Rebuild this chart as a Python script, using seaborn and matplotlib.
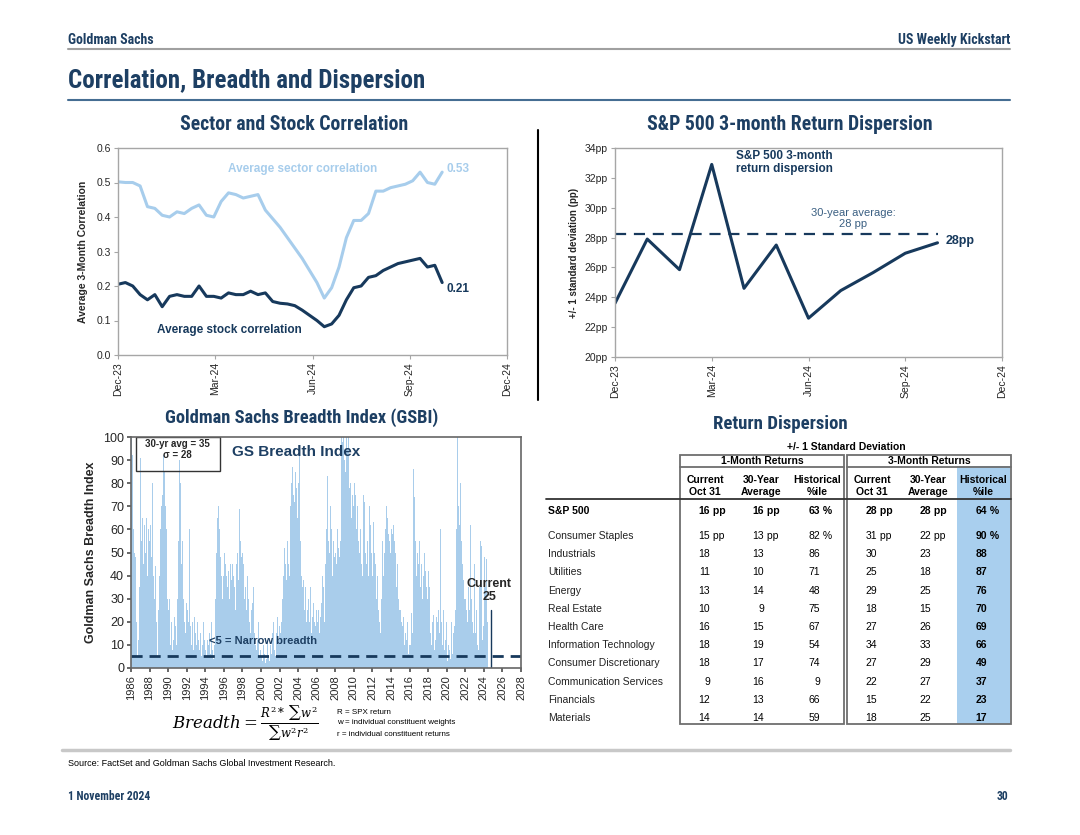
import numpy as np
import matplotlib
matplotlib.use('Agg')
import matplotlib.pyplot as plt
from matplotlib.patches import Rectangle
import seaborn as sns

NAVY = '#1d3f63'
DARK = '#17395c'
LIGHT = '#a7cdec'
BAR = '#a9cdeb'
GRAY = '#a6a6a6'
NARROW = ['Roboto Condensed', 'Liberation Sans Narrow', 'Liberation Sans']
BODY = ['Liberation Sans', 'DejaVu Sans']

# --- sector and stock correlation, weekly from Dec-23 to end Oct-24
sector_corr = [0.502, 0.50, 0.50, 0.49, 0.43, 0.425, 0.405, 0.40, 0.415, 0.41,
               0.425, 0.435, 0.405, 0.40, 0.445, 0.47, 0.465, 0.455, 0.46, 0.465,
               0.42, 0.395, 0.37, 0.34, 0.31, 0.28, 0.245, 0.21, 0.165, 0.195,
               0.255, 0.34, 0.39, 0.39, 0.41, 0.475, 0.475, 0.485, 0.49, 0.495,
               0.505, 0.53, 0.50, 0.495, 0.53]
stock_corr = [0.205, 0.21, 0.20, 0.175, 0.16, 0.175, 0.14, 0.17, 0.175, 0.17,
              0.17, 0.20, 0.17, 0.17, 0.165, 0.18, 0.175, 0.175, 0.185, 0.175,
              0.18, 0.155, 0.15, 0.148, 0.143, 0.13, 0.115, 0.10, 0.082, 0.09,
              0.115, 0.16, 0.195, 0.20, 0.225, 0.23, 0.245, 0.255, 0.265, 0.27,
              0.275, 0.28, 0.255, 0.26, 0.21]
month_ticks = ['Dec-23', 'Mar-24', 'Jun-24', 'Sep-24', 'Dec-24']

# --- S&P 500 3-month return dispersion, month-end Dec-23 .. Oct-24
dispersion = [23.6, 27.9, 25.85, 32.9, 24.6, 27.5, 22.6, 24.45, 25.65, 26.95, 27.65]
disp_avg = 28.25

# --- GS breadth index, monthly from Jan-1986
gsbi = [
    100, 92, 85, 60, 50, 48, 45, 20, 5, 12, 35, 45,      # 1986
    91, 55, 65, 67, 45, 62, 50, 60, 65, 40, 60, 55,      # 1987
    64, 62, 48, 80, 55, 40, 30, 44, 20, 12, 5, 25,       # 1988
    40, 55, 60, 70, 75, 88, 92, 85, 70, 60, 45, 30,      # 1989
    25, 30, 15, 10, 20, 8, 12, 5, 22, 18, 10, 8,         # 1990
    30, 55, 90, 80, 50, 45, 55, 30, 25, 20, 15, 28,      # 1991
    22, 25, 20, 60, 18, 15, 10, 20, 8, 12, 22, 15,       # 1992
    10, 20, 25, 12, 8, 15, 28, 5, 10, 20, 12, 6,         # 1993
    8, 5, 12, 3, 10, 15, 6, 12, 20, 8, 4, 10,            # 1994
    15, 30, 50, 65, 69, 70, 60, 48, 40, 45, 30, 40,      # 1995
    50, 70, 45, 40, 35, 50, 42, 30, 45, 38, 25, 45,      # 1996
    40, 35, 30, 25, 45, 50, 38, 42, 69, 55, 48, 35,      # 1997
    50, 45, 30, 35, 20, 25, 40, 30, 35, 20, 15, 25,      # 1998
    20, 28, 35, 15, 10, 25, 8, 12, 20, 10, 5, 8,         # 1999
    5, 3, 16, 10, 6, 2, 8, 4, 12, 5, 3, 14,              # 2000
    10, 6, 15, 12, 20, 8, 5, 10, 15, 22, 12, 18,         # 2001
    23, 15, 20, 30, 25, 40, 52, 45, 38, 50, 55, 45,      # 2002
    40, 55, 70, 80, 87, 60, 75, 72, 85, 78, 70, 65,      # 2003
    80, 92, 90, 55, 40, 35, 38, 30, 25, 35, 20, 28,      # 2004
    25, 30, 20, 35, 30, 15, 22, 28, 35, 20, 18, 25,      # 2005
    30, 20, 25, 15, 22, 30, 28, 40, 35, 25, 20, 45,      # 2006
    60, 83, 75, 55, 50, 70, 45, 60, 40, 55, 48, 42,      # 2007
    50, 45, 60, 40, 52, 48, 55, 65, 100, 98, 100, 90,    # 2008
    100, 85, 100, 95, 88, 100, 78, 80, 65, 90, 75, 70,   # 2009
    80, 88, 75, 60, 70, 65, 55, 50, 60, 45, 55, 40,      # 2010
    75, 72, 60, 50, 45, 55, 40, 60, 70, 62, 50, 45,      # 2011
    40, 63, 50, 45, 35, 30, 40, 25, 35, 20, 15, 30,      # 2012
    45, 55, 40, 50, 60, 82, 70, 65, 58, 60, 55, 50,      # 2013
    60, 58, 65, 62, 55, 50, 40, 35, 45, 30, 25, 20,      # 2014
    25, 20, 18, 15, 22, 10, 15, 8, 12, 20, 6, 10,        # 2015
    5, 10, 24, 15, 20, 86, 74, 55, 40, 35, 50, 45,       # 2016
    55, 40, 35, 45, 30, 25, 40, 50, 42, 35, 20, 30,      # 2017
    42, 35, 25, 15, 10, 20, 23, 15, 8, 12, 22, 18,       # 2018
    20, 25, 15, 60, 30, 20, 10, 25, 15, 8, 12, 20,       # 2019
    5, 3, 10, 8, 4, 12, 20, 6, 15, 10, 18, 25,           # 2020
    60, 100, 85, 70, 62, 80, 65, 55, 45, 38, 30, 25,     # 2021
    30, 25, 20, 15, 35, 25, 62, 40, 30, 20, 15, 45,      # 2022
    30, 15, 25, 10, 20, 8, 35, 55, 53, 20, 12, 18,       # 2023
    48, 30, 35, 47, 20,                                  # 2024
]
gsbi_start = 1986
gsbi_current = 25
gsbi_current_date = 2024.8
narrow_level = 5

# --- return dispersion table
sectors = ['Consumer Staples', 'Industrials', 'Utilities', 'Energy', 'Real Estate',
           'Health Care', 'Information Technology', 'Consumer Discretionary',
           'Communication Services', 'Financials', 'Materials']
m1_cur = [15, 18, 11, 13, 10, 16, 18, 18, 9, 12, 14]
m1_avg = [13, 13, 10, 14, 9, 15, 19, 17, 16, 13, 14]
m1_pct = [82, 86, 71, 48, 75, 67, 54, 74, 9, 66, 59]
m3_cur = [31, 30, 25, 29, 18, 27, 34, 27, 22, 15, 18]
m3_avg = [22, 23, 18, 25, 15, 26, 33, 29, 27, 22, 25]
m3_pct = [90, 88, 87, 76, 70, 69, 66, 49, 37, 23, 17]
spx_row = [16, 16, 63, 28, 28, 64]

sns.set_theme(style='white')
plt.rcParams['font.family'] = BODY
plt.rcParams['axes.edgecolor'] = GRAY
plt.rcParams['mathtext.fontset'] = 'dejavuserif'

fig = plt.figure(figsize=(10.8, 8.35), dpi=100)

# page overlay in pixel coordinates
ax0 = fig.add_axes([0, 0, 1, 1], zorder=-1)
ax0.set_xlim(0, 1080)
ax0.set_ylim(835, 0)
ax0.axis('off')

def page_text(x, y, s, size=7.5, weight='normal', color='black', ha='left', family=BODY, **kw):
    ax0.text(x, y, s, fontsize=size, fontweight=weight, color=color, ha=ha,
             va='center', family=family, **kw)

page_text(68, 40, 'Goldman Sachs', 10, 'bold', NAVY, family=NARROW)
page_text(1010, 40, 'US Weekly Kickstart', 10, 'bold', NAVY, ha='right', family=NARROW)
ax0.plot([68, 1010], [49, 49], color='#a0a0a0', lw=1.5)
page_text(68, 81, 'Correlation, Breadth and Dispersion', 18, 'bold', NAVY, family=NARROW)
ax0.plot([68, 1010], [100, 100], color='#456d92', lw=1.5)
ax0.plot([538, 538], [130, 400], color='black', lw=1.5)
ax0.plot([62, 1010], [750, 750], color='#c8c8c8', lw=2.5)
page_text(68, 763, 'Source: FactSet and Goldman Sachs Global Investment Research.', 6.5)
page_text(68, 796, '1 November 2024', 8.4, 'bold', NAVY, family=NARROW)
page_text(1008, 796, '30', 8.4, 'bold', NAVY, ha='right', family=NARROW)

page_text(294, 125, 'Sector and Stock Correlation', 14.2, 'bold', NAVY, ha='center', family=NARROW)
page_text(790, 125, 'S&P 500 3-month Return Dispersion', 14.2, 'bold', NAVY, ha='center', family=NARROW)
page_text(302, 418, 'Goldman Sachs Breadth Index (GSBI)', 13.3, 'bold', NAVY, ha='center', family=NARROW)
page_text(780, 424, 'Return Dispersion', 13.5, 'bold', NAVY, ha='center', family=NARROW)

# ---------- top left: correlation
ax1 = fig.add_axes([118/1080, 1-355/835, 389/1080, 207/835])
xw = np.arange(len(sector_corr)) * 10 / (len(sector_corr) - 1)
sns.lineplot(x=xw, y=sector_corr, ax=ax1, color=LIGHT, lw=2.2)
sns.lineplot(x=xw, y=stock_corr, ax=ax1, color=DARK, lw=2.2)
ax1.set_xlim(0, 12)
ax1.set_ylim(0, 0.6)
ax1.set_xticks([0, 3, 6, 9, 12])
ax1.set_xticklabels(month_ticks, rotation=90)
ax1.set_yticks(np.arange(0, 0.61, 0.1))
ax1.set_yticklabels([f'{v:.1f}' for v in np.arange(0, 0.61, 0.1)])
ax1.set_ylabel('Average 3-Month Correlation', fontsize=7.5, fontweight='bold', labelpad=6)
ax1.text(5.68, 0.539, 'Average sector correlation', color=LIGHT, fontsize=8.5,
         fontweight='bold', ha='center', va='center')
ax1.text(10.12, 0.539, '0.53', color=LIGHT, fontsize=8.5, fontweight='bold', va='center')
ax1.text(10.12, 0.19, '0.21', color=DARK, fontsize=8.5, fontweight='bold', va='center')
ax1.text(1.2, 0.072, 'Average stock correlation', color=DARK, fontsize=8.5,
         fontweight='bold', va='center')

# ---------- top right: dispersion
ax2 = fig.add_axes([615/1080, 1-357/835, 387/1080, 209/835])
xm = np.arange(len(dispersion))
sns.lineplot(x=xm, y=dispersion, ax=ax2, color=DARK, lw=2.2)
ax2.plot([0, len(dispersion) - 1], [disp_avg, disp_avg], color=DARK, lw=1.6,
         dashes=(5, 3.5))
ax2.set_xlim(0, 12)
ax2.set_ylim(20, 34)
ax2.set_xticks([0, 3, 6, 9, 12])
ax2.set_xticklabels(month_ticks, rotation=90)
ax2.set_yticks(range(20, 35, 2))
ax2.set_yticklabels([f'{v}pp' for v in range(20, 35, 2)])
ax2.set_ylabel('+/- 1 standard deviation (pp)', fontsize=7, fontweight='bold', labelpad=4)
ax2.text(3.75, 33.0, 'S&P 500 3-month\nreturn dispersion', color=DARK, fontsize=8.5,
         fontweight='bold', va='center', linespacing=1.1)
ax2.text(7.38, 29.3, '30-year average:\n28 pp', color='#3a5f82', fontsize=8,
         ha='center', va='center', linespacing=1.15)
ax2.text(10.26, 27.75, '28pp', color=DARK, fontsize=9, fontweight='bold', va='center')

for ax in (ax1, ax2):
    ax.tick_params(axis='both', labelsize=7.5, length=3, width=0.8, color=GRAY,
                   direction='out', pad=2, bottom=True, left=True)
    for sp in ax.spines.values():
        sp.set_color(GRAY)
        sp.set_linewidth(1)

# ---------- bottom left: breadth index
ax3 = fig.add_axes([131/1080, 1-668/835, 390/1080, 231/835])
yrs = gsbi_start + np.arange(len(gsbi)) / 12
ax3.bar(yrs, gsbi, width=1/12, align='edge', color=BAR, linewidth=0)
ax3.axhline(narrow_level, color=DARK, lw=2, dashes=(4, 2.5))
ax3.plot([gsbi_current_date, gsbi_current_date], [0, gsbi_current], color=DARK, lw=1)
ax3.set_xlim(1986, 2028)
ax3.set_ylim(0, 100)
ax3.set_xticks(range(1986, 2029, 2))
ax3.set_xticklabels([str(y) for y in range(1986, 2029, 2)], rotation=90)
ax3.set_yticks(range(0, 101, 10))
ax3.tick_params(axis='x', labelsize=8, length=3, color='#555555', bottom=True, pad=2)
ax3.tick_params(axis='y', labelsize=9, length=3, color='#555555', left=True, pad=2)
for sp in ax3.spines.values():
    sp.set_color('#666666')
    sp.set_linewidth(1.2)
ax3.set_ylabel('Goldman Sachs Breadth Index', fontsize=9, fontweight='bold', labelpad=4)
ax3.add_patch(Rectangle((0.013, 0.853), 0.215, 0.147, transform=ax3.transAxes,
                        fill=False, edgecolor='#333333', lw=1))
ax3.text(0.12, 0.945, '30-yr avg = 35\n\u03c3 = 28', transform=ax3.transAxes,
         fontsize=7, fontweight='bold', ha='center', va='center', linespacing=1.1)
ax3.text(1996.9, 93.5, 'GS Breadth Index', color=NAVY, fontsize=11, fontweight='bold',
         va='center')
ax3.text(1994.4, 11.7, '<5 = Narrow breadth', color=NAVY, fontsize=8, fontweight='bold',
         va='center')
ax3.text(2024.6, 33.5, 'Current\n' + str(gsbi_current), fontsize=9, fontweight='bold',
         ha='center', va='center', linespacing=1.05)

page_text(245, 723, r'$Breadth=\frac{R^2*\;\sum w^2}{\sum w^2r^2}$', 12, ha='center')
page_text(337, 712, 'R = SPX return', 5.8)
page_text(337, 723, 'w = individual constituent weights', 5.8)
page_text(337, 734, 'r = individual constituent returns', 5.8)

# ---------- table
ax0.add_patch(Rectangle((957, 466), 53, 258, color='#a9cfee', lw=0, zorder=0))
for x0, x1 in ((680, 844), (847, 1011)):
    ax0.add_patch(Rectangle((x0, 455), x1 - x0, 269, fill=False, edgecolor='#6e6e6e',
                            lw=1.3, zorder=2))
    ax0.plot([x0, x1], [467, 467], color='#6e6e6e', lw=1.3)
ax0.plot([546, 1011], [499, 499], color='#333333', lw=1.3)
page_text(846, 447, '+/- 1 Standard Deviation', 7.5, 'bold', ha='center')
page_text(762, 461, '1-Month Returns', 7.5, 'bold', ha='center')
page_text(929, 461, '3-Month Returns', 7.5, 'bold', ha='center')
col_c = [705, 761, 817, 872, 928, 983]
heads = [('Current', 'Oct 31'), ('30-Year', 'Average'), ('Historical', '%ile')] * 2
for cx, (h1, h2) in zip(col_c, heads):
    page_text(cx, 480, h1, 7.5, 'bold', ha='center')
    page_text(cx, 492, h2, 7.5, 'bold', ha='center')

col_r = [710, 764, 820, 877, 931, 987]
suffix = [' pp', ' pp', ' %', ' pp', ' pp', ' %']
page_text(548, 511, 'S&P 500', 7.5, 'bold')
for j, v in enumerate(spx_row):
    page_text(col_r[j], 511, str(v), 7.5, 'bold', ha='right')
    page_text(col_r[j], 511, suffix[j], 7.5, 'bold')

cols = [m1_cur, m1_avg, m1_pct, m3_cur, m3_avg, m3_pct]
for i, name in enumerate(sectors):
    y = 536 + i * 18.2
    page_text(548, y, name, 7.5, color='#222222')
    for j, col in enumerate(cols):
        w = 'bold' if j == 5 else 'normal'
        page_text(col_r[j], y, str(col[i]), 7.5, w, ha='right')
        if i == 0:
            page_text(col_r[j], y, suffix[j], 7.5, w)

fig.savefig('out.png', dpi=100)
